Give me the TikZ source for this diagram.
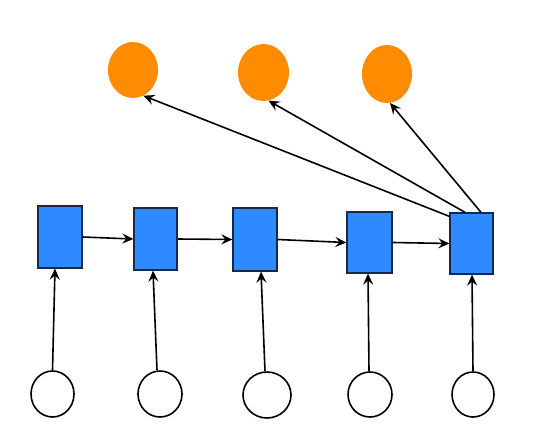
\documentclass[tikz,border=0pt]{standalone}
\usetikzlibrary{arrows.meta,calc,shapes.geometric}
\definecolor{boxblue}{RGB}{46,139,255}
\definecolor{boxedge}{RGB}{25,40,70}
\definecolor{orng}{RGB}{255,140,0}
\begin{document}
\begin{tikzpicture}[x=1pt,y=-1pt,
  cell/.style={rectangle,draw=boxedge,line width=1.3pt,fill=boxblue,inner sep=0pt},
  outn/.style={ellipse,fill=orng,inner sep=0pt},
  inn/.style={ellipse,draw=black,line width=1.6pt,fill=white,inner sep=0pt},
  conn/.style={line width=1.6pt,-{Stealth[length=11pt,width=10pt,inset=4pt]}}]
\useasboundingbox (0,0) rectangle (540,439);
% recurrent cells
\node[cell,minimum width=44pt,minimum height=62pt] (b1) at (60,237) {};
\node[cell,minimum width=43pt,minimum height=62pt] (b2) at (155.5,239) {};
\node[cell,minimum width=44pt,minimum height=63pt] (b3) at (255,239.5) {};
\node[cell,minimum width=45pt,minimum height=61pt] (b4) at (369.5,242.5) {};
\node[cell,minimum width=43pt,minimum height=61pt] (b5) at (471.5,243.5) {};
% outputs
\node[outn,minimum width=50pt,minimum height=56pt] (o1) at (133,70) {};
\node[outn,minimum width=51pt,minimum height=57pt] (o2) at (263.5,72.5) {};
\node[outn,minimum width=50pt,minimum height=58pt] (o3) at (387,74) {};
% inputs
\node[inn,minimum width=43pt,minimum height=46pt] (c1) at (52.5,394) {};
\node[inn,minimum width=44pt,minimum height=46pt] (c2) at (160,394) {};
\node[inn,minimum width=48pt,minimum height=46pt] (c3) at (267,395) {};
\node[inn,minimum width=44pt,minimum height=45pt] (c4) at (370,394.5) {};
\node[inn,minimum width=42pt,minimum height=45pt] (c5) at (473,394.5) {};
% input arrows
\draw[conn] (c1.north) -- ($(b1.south)+(-5,0)$);
\draw[conn] ($(c2.north)+(-3,0)$) -- ($(b2.south)+(-2.5,0)$);
\draw[conn] ($(c3.north)+(-2,0)$) -- ($(b3.south)+(6,0)$);
\draw[conn] ($(c4.north)+(-1,0)$) -- ($(b4.south)+(-1.5,0)$);
\draw[conn] (c5.north) -- ($(b5.south)+(0.5,0)$);
% recurrent arrows
\draw[conn] (b1.east) -- (b2.west);
\draw[conn] (b2.east) -- (b3.west);
\draw[conn] (b3.east) -- (b4.west);
\draw[conn] (b4.east) -- (b5.west);
% output arrows
\draw[conn] ($(b5.north west)+(0,4)$) -- (o1.-68);
\draw[conn] ($(b5.north)+(-6.5,0)$) -- (o2.-80);
\draw[conn] ($(b5.north)+(9.5,0)$) -- (o3.-84);
\end{tikzpicture}
\end{document}
